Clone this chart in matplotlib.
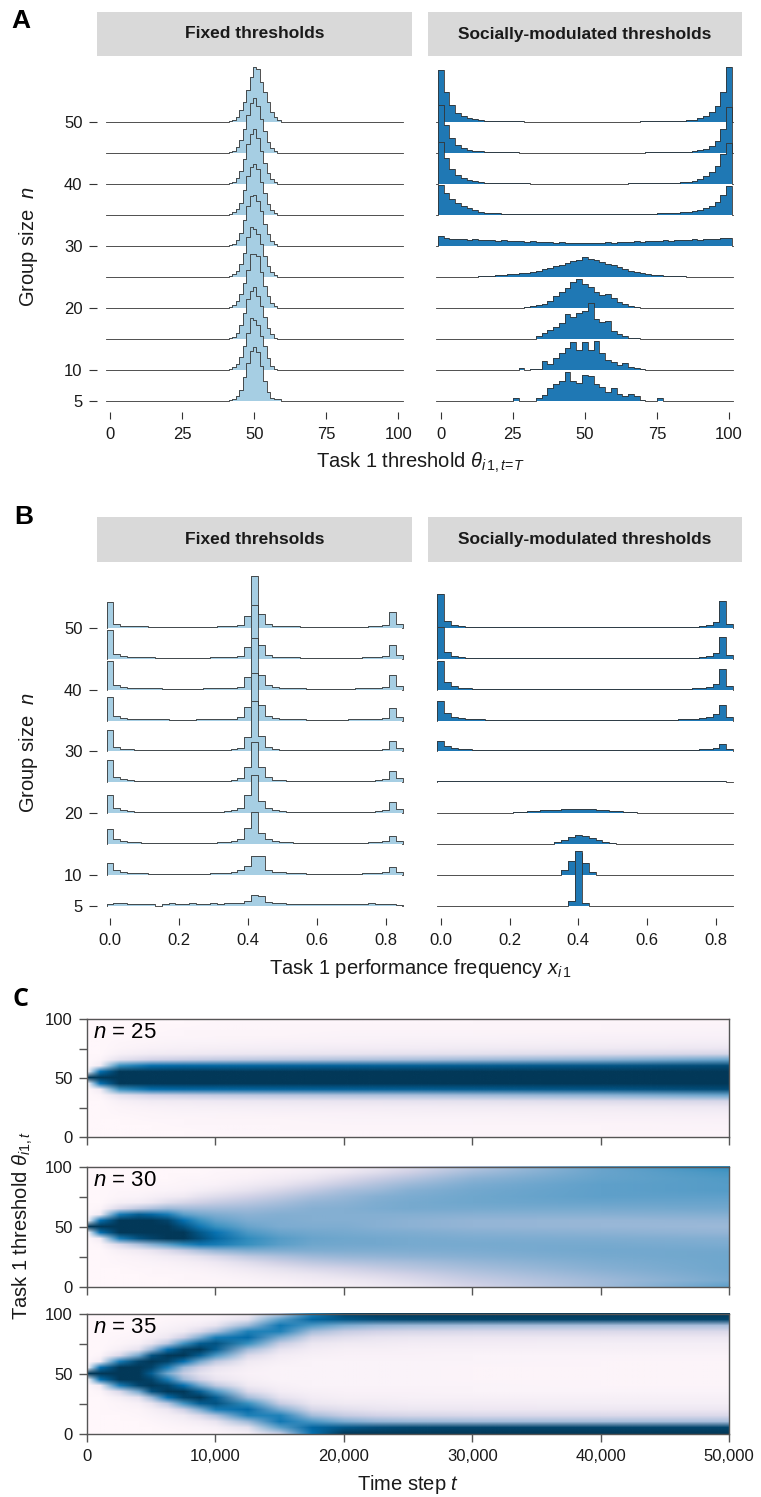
import numpy as np
import matplotlib.pyplot as plt
from matplotlib.image import NonUniformImage

plt.rcParams['font.family'] = ['Liberation Sans', 'DejaVu Sans']
plt.rcParams['mathtext.fontset'] = 'custom'
plt.rcParams['mathtext.rm'] = 'Liberation Sans'
plt.rcParams['mathtext.it'] = 'Liberation Sans:italic'
plt.rcParams['mathtext.bf'] = 'Liberation Sans:bold'

# ---------------- data ----------------
group_sizes = [5, 10, 15, 20, 25, 30, 35, 40, 45, 50]
size_labels = ['5', '10', '20', '30', '40', '50']
size_label_rows = [0, 1, 3, 5, 7, 9]
strip_titles_a = ['Fixed thresholds', 'Socially-modulated thresholds']
strip_titles_b = ['Fixed threhsolds', 'Socially-modulated thresholds']

# panel A, fixed thresholds: 17 bins of width 1.2 starting at 40
fixed_thr_start, fixed_thr_width = 40.0, 1.2
fixed_thr = [
    [0.3, 1, 2, 5, 11, 24, 38, 50, 54, 49, 35, 20, 9, 3, 2.5, 2, 0.3],   # n=5
    [0.5, 1, 3, 6, 13, 24, 37, 52, 50, 45, 34, 24, 12, 4, 1.5, 0.5, 0],  # 10
    [0.3, 1, 2, 6, 14, 26, 40, 48, 52, 43, 33, 22, 11, 5, 1.5, 0.5, 0],  # 15
    [0.5, 1, 3, 7, 14, 25, 38, 54, 54, 52, 36, 22, 12, 5, 2, 0.5, 0],    # 20
    [0.3, 1, 3, 6, 13, 24, 40, 50, 48, 43, 33, 21, 11, 5, 2, 0.5, 0],    # 25
    [0.3, 1, 2, 6, 13, 26, 40, 50, 51, 45, 35, 22, 12, 5, 2, 0.5, 0],    # 30
    [0.3, 1, 3, 6, 12, 25, 39, 48, 51, 46, 33, 22, 11, 5, 2, 0.5, 0],    # 35
    [0.3, 1, 2, 6, 13, 25, 40, 50, 55, 46, 33, 21, 11, 5, 2, 0.5, 0],    # 40
    [0.3, 1, 2, 6, 13, 24, 38, 50, 55, 47, 34, 22, 11, 5, 2, 0.5, 0],    # 45
    [0.3, 1, 2, 5, 12, 20, 32, 45, 55, 53, 40, 30, 20, 10, 5, 2, 0.5],   # 50
]

# panel A, socially-modulated thresholds: 51 bins of width 2 centred on 0, 2, ..., 100
social_thr = [
    [0] * 13 + [3, 0, 0, 0, 3, 6, 13, 17, 20, 29, 20, 18, 26, 25, 17, 14, 9, 13, 7, 5, 7, 5, 1, 0, 0, 3] + [0] * 12,
    [0] * 14 + [2, 0.5, 1, 1, 9, 6, 12, 17, 22, 28, 20, 28, 20, 29, 17, 10, 8, 5, 7, 3, 2, 1] + [0] * 15,
    [0] * 16 + [0.5, 3, 6, 9, 12, 16, 25, 22, 26, 28, 36, 20, 17, 18, 8, 5, 3, 1, 1, 0.5, 0.3] + [0] * 14,
    [0] * 14 + [0.5, 1.5, 2.5, 3, 4.5, 7, 12, 16, 20, 26, 29, 24, 21, 16, 13, 14, 10, 6, 4, 2, 1, 0.5, 0.3] + [0] * 14,
    [0, 0, 0, 0, 0, 0.3, 0.5, 1, 1.3, 1.6, 2, 2.5, 3, 3.5, 4.5, 4.5, 5.5, 6.5, 8, 9.5,
     11, 12.5, 14.5, 16, 17, 20, 18, 17, 15, 13, 12, 10, 8, 6.5, 5, 4, 3, 2.5, 2, 1.5,
     1.5, 1, 1, 0.6, 0.4, 0.2, 0, 0, 0, 0, 0],
    [10, 8, 7.5, 7, 7.5, 6.5, 7, 6, 6.5, 6, 5.5, 6, 5, 5.5, 5, 4.5, 5, 4, 4.5, 4,
     3.5, 4, 3.5, 3, 3.5, 3, 3.5, 3, 3.5, 4, 3.5, 4, 4.5, 4, 5, 4.5, 5, 5.5, 5, 6,
     5.5, 6, 6.5, 6, 7, 6.5, 7, 7.5, 7, 8, 8],
    [30, 22, 16, 12, 9, 7, 5, 3.5, 2.5, 2, 1.8, 1.6, 1.5, 1.4, 1.3, 1.2, 1.1, 1, 1, 1,
     1, 0.9, 0.9, 0.9, 0.9, 0.9, 0.9, 0.9, 1, 1, 1, 1, 1.1, 1.2, 1.3, 1.4, 1.5, 1.6, 1.8, 2,
     2.2, 2.5, 3, 3.5, 4, 5, 7, 9, 13, 20, 29],
    [42, 26, 15, 9, 6, 4, 3, 2.2, 1.6, 1.2, 1, 1, 0.9, 0.9, 0.8, 0.8, 0.7, 0.7, 0.7, 0.6,
     0.6, 0.6, 0.6, 0.6, 0.6, 0.6, 0.6, 0.6, 0.6, 0.6, 0.7, 0.7, 0.7, 0.8, 0.8, 0.9, 0.9, 1, 1.1, 1.2,
     1.3, 1.5, 2, 2.6, 3.5, 5, 8, 12, 18, 30, 41],
    [48, 28, 15, 8, 5, 3.5, 2.5, 2, 1.5, 1.2, 1, 0.9, 0.8, 0.8, 0.7, 0.7, 0.6, 0.6, 0.6, 0.5,
     0.5, 0.5, 0.5, 0.5, 0.5, 0.5, 0.5, 0.5, 0.5, 0.5, 0.6, 0.6, 0.6, 0.6, 0.7, 0.7, 0.8, 0.8, 0.9, 1,
     1.1, 1.2, 1.4, 1.7, 2.2, 3, 4.5, 7, 12, 24, 46],
    [52, 30, 17, 9, 6, 4, 3, 2.2, 1.6, 1.2, 1, 1, 0.9, 0.8, 0.8, 0.7, 0.7, 0.6, 0.6, 0.6,
     0.6, 0.5, 0.5, 0.5, 0.5, 0.5, 0.5, 0.5, 0.5, 0.6, 0.6, 0.6, 0.6, 0.7, 0.7, 0.8, 0.8, 0.9, 1, 1.1,
     1.2, 1.3, 1.5, 2, 2.5, 4, 6, 10, 16, 30, 55],
]

# panel B: 43 bins of width 0.02 centred on 0.00, 0.02, ..., 0.84
fixed_freq = [
    [2, 3, 3.5, 2, 2.5, 2, 2, 0.5, 2.5, 3, 2, 2.5, 3, 2.5, 2.5, 3, 2.5, 3, 3, 3.5,
     5, 11, 10, 4, 3, 3, 2.5, 2, 2, 2.5, 2, 2.5, 2, 2, 2.5, 2, 2.5, 2, 3, 2, 2.5, 2, 1],
    [12, 5, 3, 2.5, 2.2, 2, 1.8, 1.7, 1.6, 1.6, 1.6, 1.6, 1.6, 1.7, 1.8, 2, 2.3, 2.7, 3.5, 5,
     9, 19, 19, 5, 3.5, 3, 2.5, 2.2, 2, 1.8, 1.7, 1.7, 1.6, 1.6, 1.6, 1.7, 1.8, 2, 2.2, 2.5, 3.5, 8, 3],
    [15, 5, 3, 2.5, 2, 1.8, 1.6, 1.5, 1.5, 1.4, 1.4, 1.4, 1.5, 1.5, 1.6, 1.8, 2, 2.5, 3.5, 5.5,
     16, 32, 11, 5, 3, 2.5, 2, 1.8, 1.6, 1.5, 1.5, 1.4, 1.4, 1.4, 1.5, 1.5, 1.6, 1.8, 2, 2.3, 3, 8, 3],
    [18, 5, 3, 2.2, 1.8, 1.6, 1.5, 1.4, 1.3, 1.3, 1.2, 1.2, 1.3, 1.3, 1.4, 1.6, 1.8, 2.2, 3, 5,
     18, 38, 12, 5, 3, 2.2, 1.8, 1.6, 1.5, 1.4, 1.3, 1.3, 1.3, 1.3, 1.3, 1.4, 1.5, 1.6, 1.8, 2.2, 3, 11, 4],
    [22, 5, 3, 2, 1.7, 1.5, 1.4, 1.3, 1.2, 1.2, 1.1, 1.1, 1.2, 1.2, 1.3, 1.4, 1.6, 1.9, 2.4, 4.5,
     15, 41, 15, 5, 2.8, 2, 1.6, 1.4, 1.3, 1.2, 1.1, 1.1, 1.1, 1.1, 1.2, 1.2, 1.3, 1.4, 1.6, 2, 3, 11, 4],
    [22, 5, 2.5, 2, 1.6, 1.4, 1.3, 1.2, 1.1, 1.1, 1, 1, 1.1, 1.1, 1.2, 1.3, 1.5, 1.8, 2.2, 4,
     15, 51, 16, 5, 2.5, 1.8, 1.4, 1.3, 1.2, 1.1, 1, 1, 1, 1, 1.1, 1.1, 1.2, 1.3, 1.5, 1.8, 2.5, 11, 4],
    [24, 5, 2.5, 1.8, 1.5, 1.3, 1.2, 1.1, 1.1, 1, 1, 1, 1, 1.1, 1.1, 1.2, 1.4, 1.6, 2, 3.5,
     14, 48, 16, 5, 2.5, 1.8, 1.4, 1.2, 1.1, 1, 1, 1, 1, 1, 1, 1.1, 1.1, 1.2, 1.4, 1.8, 2.5, 13, 4],
    [29, 5, 2.5, 1.8, 1.5, 1.3, 1.2, 1.1, 1, 1, 1, 1, 1, 1, 1.1, 1.2, 1.3, 1.5, 1.9, 3,
     13, 52, 15, 4.5, 2.2, 1.6, 1.3, 1.2, 1.1, 1, 1, 1, 1, 1, 1, 1, 1.1, 1.2, 1.4, 1.8, 2.5, 15, 4],
    [29, 5, 2.5, 1.8, 1.5, 1.3, 1.2, 1.1, 1, 1, 1, 1, 1, 1, 1.1, 1.2, 1.3, 1.5, 1.8, 2.8,
     12, 54, 14, 4, 2, 1.5, 1.3, 1.2, 1.1, 1, 1, 1, 1, 1, 1, 1, 1.1, 1.2, 1.3, 1.6, 2.2, 14, 4],
    [26, 4, 2, 1.5, 1.3, 1.2, 1.1, 1, 1, 1, 1, 1, 1, 1, 1, 1.1, 1.2, 1.4, 1.7, 2.5,
     12, 52, 14, 4, 2, 1.5, 1.3, 1.2, 1.1, 1, 1, 1, 1, 1, 1, 1, 1, 1.1, 1.2, 1.5, 2.2, 16, 4],
]

social_freq = [
    [0] * 19 + [5, 55, 3] + [0] * 21,
    [0] * 17 + [0.5, 5, 14, 22, 12, 3, 0.5] + [0] * 19,
    [0] * 16 + [0.5, 2, 4.5, 7.5, 9.3, 8.5, 6.5, 4.5, 2.8, 1.5, 0.8, 0.3] + [0] * 15,
    [0] * 8 + [0.3, 0.5, 0.8, 1.1, 1.5, 2, 2.5, 3, 3.5, 3.8, 4.2, 4.3, 4.4, 4.2, 4, 3.6, 3.2, 2.7,
               2.2, 1.7, 1.2, 0.8, 0.5, 0.3, 0.2] + [0] * 10,
    [1.5, 1.3, 1.3, 1.2, 1.2, 1.2, 1.3, 1.3, 1.2, 1.3, 1.3, 1.3, 1.4, 1.3, 1.4, 1.4, 1.3, 1.4, 1.5, 1.4,
     1.5, 1.4, 1.5, 1.4, 1.4, 1.3, 1.4, 1.3, 1.3, 1.3, 1.2, 1.3, 1.2, 1.2, 1.1, 1.2, 1.1, 1.1, 1, 1, 1, 1, 0.8],
    [11, 6, 3.5, 2.5, 2, 1.6, 1.4, 1.3, 1.2, 1.1, 1, 1, 1, 1, 1, 1, 1, 1, 1, 1,
     1, 1, 1, 1, 1, 1, 1, 1, 1, 1, 1.1, 1.1, 1.2, 1.2, 1.3, 1.4, 1.5, 1.7, 2, 2.5, 3.5, 8, 2.5],
    [20, 8, 4, 2.5, 1.8, 1.4, 1.2, 1, 0.9, 0.8, 0.8, 0.8, 0.8, 0.8, 0.8, 0.8, 0.8, 0.8, 0.8, 0.8,
     0.8, 0.8, 0.8, 0.8, 0.8, 0.8, 0.8, 0.8, 0.8, 0.8, 0.8, 0.8, 0.9, 0.9, 1, 1.2, 1.4, 1.8, 2.5, 4, 7, 16, 4],
    [29, 8, 3.5, 1.8, 1.2, 0.9, 0.7, 0.6, 0.5, 0.5, 0.5, 0.5, 0.5, 0.5, 0.5, 0.5, 0.5, 0.5, 0.5, 0.5,
     0.5, 0.5, 0.5, 0.5, 0.5, 0.5, 0.5, 0.5, 0.5, 0.5, 0.5, 0.5, 0.5, 0.6, 0.6, 0.7, 0.9, 1.2, 1.8, 3, 6, 21, 4],
    [32, 7, 3, 1.5, 1, 0.8, 0.6, 0.5, 0.5, 0.5, 0.4, 0.4, 0.4, 0.4, 0.4, 0.4, 0.4, 0.4, 0.4, 0.4,
     0.4, 0.4, 0.4, 0.4, 0.4, 0.4, 0.4, 0.4, 0.4, 0.4, 0.4, 0.4, 0.5, 0.5, 0.5, 0.6, 0.8, 1, 1.5, 2.5, 6, 22, 4],
    [34, 7, 3, 1.5, 1, 0.8, 0.6, 0.5, 0.5, 0.5, 0.4, 0.4, 0.4, 0.4, 0.4, 0.4, 0.4, 0.4, 0.4, 0.4,
     0.4, 0.4, 0.4, 0.4, 0.4, 0.4, 0.4, 0.4, 0.4, 0.4, 0.4, 0.4, 0.5, 0.5, 0.5, 0.6, 0.8, 1, 1.5, 2.5, 6, 27, 4],
]

# panel C: density of thresholds over time (one list per time step, theta 0..100 by 5)
theta_grid = [0, 5, 10, 15, 20, 25, 30, 35, 40, 45, 50, 55, 60, 65, 70, 75, 80, 85, 90, 95, 100]
time_labels = ['0', '10,000', '20,000', '30,000', '40,000', '50,000']
heat_sizes = [25, 30, 35]

times_n25 = [0, 1000, 2500, 5000, 7500, 10000, 15000, 20000, 25000, 30000, 40000, 50000]
heat_n25 = [
    [0, 0, 0, 0, 0, 0, 0, 0, 0, 0, 100, 0, 0, 0, 0, 0, 0, 0, 0, 0, 0],
    [0, 0, 0, 0, 0, 0, 0, 2, 10, 75, 100, 75, 10, 2, 0, 0, 0, 0, 0, 0, 0],
    [0, 0, 0, 0, 1, 2, 5, 16, 62, 100, 100, 100, 62, 16, 5, 2, 1, 0, 0, 0, 0],
    [0, 0, 0, 1, 2, 4, 9, 24, 76, 100, 100, 100, 76, 24, 9, 4, 2, 1, 0, 0, 0],
    [0, 0, 1, 1, 3, 5, 10, 27, 79, 100, 100, 100, 79, 27, 10, 5, 3, 1, 1, 0, 0],
    [0, 1, 1, 2, 3, 6, 11, 29, 80, 100, 100, 100, 80, 29, 11, 6, 3, 2, 1, 1, 0],
    [0, 1, 1, 2, 4, 7, 13, 32, 82, 100, 100, 100, 82, 32, 13, 7, 4, 2, 1, 1, 0],
    [1, 1, 2, 3, 4, 8, 14, 34, 83, 100, 100, 100, 83, 34, 14, 8, 4, 3, 2, 1, 1],
    [1, 1, 2, 3, 5, 8, 15, 36, 84, 100, 100, 100, 84, 36, 15, 8, 5, 3, 2, 1, 1],
    [1, 1, 2, 3, 5, 9, 16, 39, 86, 100, 100, 100, 86, 39, 16, 9, 5, 3, 2, 1, 1],
    [1, 2, 2, 4, 6, 10, 19, 44, 89, 100, 100, 100, 89, 44, 19, 10, 6, 4, 2, 2, 1],
    [1, 2, 3, 4, 7, 12, 22, 52, 93, 100, 100, 100, 93, 52, 22, 12, 7, 4, 3, 2, 1],
]

times_fine = [0, 1000, 2500, 4000, 5000, 6250, 7500, 8750, 10000, 12500, 15000,
              17500, 20000, 22500, 25000, 30000, 40000, 50000]
heat_n30 = [
    [0, 0, 0, 0, 0, 0, 0, 0, 0, 0, 100, 0, 0, 0, 0, 0, 0, 0, 0, 0, 0],
    [0, 0, 0, 0, 0, 0, 0, 2, 10, 75, 100, 75, 10, 2, 0, 0, 0, 0, 0, 0, 0],
    [0, 0, 0, 0, 1, 2, 6, 20, 70, 100, 100, 100, 70, 20, 6, 2, 1, 0, 0, 0, 0],
    [0, 0, 0, 1, 2, 4, 10, 35, 90, 100, 100, 100, 85, 30, 8, 3, 1, 0, 0, 0, 0],
    [0, 0, 1, 1, 3, 6, 14, 45, 95, 100, 100, 100, 80, 35, 12, 5, 2, 1, 0, 0, 0],
    [0, 0, 1, 2, 4, 9, 20, 55, 100, 100, 100, 95, 70, 40, 18, 8, 3, 1, 0, 0, 0],
    [0, 1, 1, 3, 6, 12, 28, 65, 100, 100, 90, 75, 55, 38, 22, 10, 4, 2, 1, 0, 0],
    [0, 1, 2, 4, 8, 16, 36, 72, 92, 88, 72, 62, 50, 38, 25, 15, 7, 3, 1, 0, 0],
    [1, 1, 3, 6, 11, 21, 42, 70, 80, 74, 62, 54, 47, 38, 28, 18, 10, 4, 2, 1, 0],
    [1, 3, 6, 11, 18, 30, 47, 62, 64, 58, 52, 48, 44, 39, 32, 24, 15, 9, 4, 2, 1],
    [2, 5, 10, 16, 25, 35, 47, 55, 56, 52, 48, 47, 46, 42, 37, 30, 22, 14, 8, 4, 2],
    [4, 8, 13, 21, 30, 39, 47, 51, 52, 50, 47, 46, 46, 45, 42, 37, 29, 21, 13, 7, 4],
    [6, 10, 17, 24, 33, 41, 47, 50, 51, 49, 47, 46, 46, 46, 44, 41, 36, 28, 20, 12, 7],
    [9, 14, 20, 28, 35, 42, 47, 50, 50, 48, 45, 45, 46, 48, 47, 45, 40, 34, 27, 18, 12],
    [13, 18, 24, 31, 37, 43, 47, 49, 49, 47, 44, 44, 46, 49, 49, 48, 45, 40, 33, 25, 18],
    [23, 27, 32, 37, 41, 45, 48, 49, 48, 45, 42, 42, 45, 49, 51, 51, 50, 48, 44, 38, 32],
    [38, 39, 42, 45, 47, 49, 50, 49, 47, 44, 41, 41, 45, 49, 52, 54, 54, 54, 53, 52, 52],
    [54, 49, 50, 51, 51, 51, 50, 48, 46, 42, 40, 42, 46, 50, 52, 54, 56, 56, 57, 59, 64],
]
heat_n35 = [
    [0, 0, 0, 0, 0, 0, 0, 0, 0, 0, 100, 0, 0, 0, 0, 0, 0, 0, 0, 0, 0],
    [0, 0, 0, 0, 0, 0, 0, 2, 10, 75, 100, 75, 10, 2, 0, 0, 0, 0, 0, 0, 0],
    [0, 0, 0, 0, 1, 2, 6, 20, 70, 100, 100, 100, 70, 20, 6, 2, 1, 0, 0, 0, 0],
    [0, 0, 0, 1, 2, 5, 15, 50, 95, 100, 100, 100, 95, 50, 15, 5, 2, 1, 0, 0, 0],
    [0, 0, 1, 3, 6, 14, 40, 90, 100, 95, 85, 95, 100, 90, 40, 14, 6, 3, 1, 0, 0],
    [0, 1, 3, 6, 12, 32, 75, 100, 95, 70, 50, 70, 95, 100, 75, 32, 12, 6, 3, 1, 0],
    [1, 2, 5, 10, 26, 60, 95, 100, 75, 40, 28, 40, 75, 100, 95, 60, 26, 10, 5, 2, 1],
    [1, 3, 8, 20, 48, 85, 100, 85, 50, 24, 16, 24, 50, 85, 100, 85, 48, 20, 8, 3, 1],
    [2, 5, 14, 35, 70, 90, 85, 58, 30, 14, 9, 14, 30, 58, 85, 90, 70, 35, 14, 5, 2],
    [6, 16, 40, 68, 78, 62, 38, 20, 10, 6, 4, 6, 10, 20, 38, 62, 78, 68, 40, 16, 6],
    [28, 55, 72, 68, 48, 28, 15, 8, 5, 3, 3, 3, 5, 8, 15, 28, 48, 68, 72, 55, 28],
    [75, 80, 58, 38, 22, 13, 8, 5, 3, 3, 3, 3, 3, 5, 8, 13, 22, 38, 58, 80, 68],
    [100, 88, 48, 28, 17, 10, 6, 4, 3, 3, 3, 3, 3, 4, 6, 10, 17, 28, 48, 88, 95],
    [100, 92, 42, 24, 14, 9, 6, 4, 3, 3, 3, 3, 3, 4, 6, 9, 14, 24, 42, 92, 100],
    [100, 94, 40, 22, 13, 8, 5, 4, 3, 3, 3, 3, 3, 4, 5, 8, 13, 22, 40, 94, 100],
    [100, 95, 38, 21, 12, 8, 5, 3, 3, 2, 2, 2, 3, 3, 5, 8, 12, 21, 38, 95, 100],
    [100, 95, 37, 20, 12, 7, 5, 3, 2, 2, 2, 2, 2, 3, 5, 7, 12, 20, 37, 95, 100],
    [100, 95, 36, 20, 12, 7, 5, 3, 2, 2, 2, 2, 2, 3, 5, 7, 12, 20, 36, 95, 100],
]

# ---------------- layout helpers ----------------
W, H = 761, 1497
fig = plt.figure(figsize=(W / 100, H / 100), dpi=100)


def box(l, t, r, b):
    return [l / W, 1 - b / H, (r - l) / W, (b - t) / H]


LINE = '#333333'
TXT = '#1a1a1a'


def strip(l, t, r, b, title):
    ax = fig.add_axes(box(l, t, r, b))
    ax.set_facecolor('#d9d9d9')
    ax.set_xticks([])
    ax.set_yticks([])
    for s in ax.spines.values():
        s.set_visible(False)
    ax.text(0.5, 0.5, title, ha='center', va='center', fontsize=12.5,
            fontweight='bold', color=TXT, transform=ax.transAxes)


def ridges(ax, edges, rows, color, lo, hi, per_row=31.0):
    edges = np.asarray(edges)
    for i, h in enumerate(rows):
        h = np.asarray(h, dtype=float) / per_row
        x = np.concatenate([[lo], np.repeat(edges, 2), [hi]])
        y = np.concatenate([[0, 0], np.repeat(h, 2), [0, 0]])
        z = 100 - i
        ax.fill(x, i + y, color=color, lw=0, zorder=z)
        ax.plot(x, i + y, color=LINE, lw=0.6, zorder=z + 0.5)


def style_ridge_axes(ax, xticks, xlabels, xlim, ylim, left):
    ax.set_xlim(*xlim)
    ax.set_ylim(*ylim)
    for s in ax.spines.values():
        s.set_visible(False)
    ax.set_xticks(xticks)
    ax.set_xticklabels(xlabels)
    ax.tick_params(axis='x', direction='out', length=5.2, width=0.8, color=LINE,
                   labelsize=12, labelcolor=TXT, pad=5.5)
    if left:
        ax.set_yticks(size_label_rows)
        ax.set_yticklabels(size_labels)
        ax.tick_params(axis='y', direction='out', length=5.5, width=0.8, color=LINE,
                       labelsize=12, labelcolor=TXT, pad=5)
    else:
        ax.set_yticks([])


# ---------------- panel A ----------------
a_fixed_edges = fixed_thr_start + fixed_thr_width * np.arange(len(fixed_thr[0]) + 1)
a_social_edges = np.arange(len(social_thr[0]) + 1) * 2.0 - 1.0
a_ticks = [0, 25, 50, 75, 100]
a_tlabels = ['0', '25', '50', '75', '100']

strip(97, 12, 412, 56, strip_titles_a[0])
strip(427.7, 12, 742.3, 56, strip_titles_a[1])

axA1 = fig.add_axes(box(97, 56, 412, 411.7))
ridges(axA1, a_fixed_edges, fixed_thr, '#a6cee3', -1.5, 101.5)
style_ridge_axes(axA1, a_ticks, a_tlabels, (-4.51, 104.75), (-0.345, 11.14), True)

axA2 = fig.add_axes(box(427.7, 56, 742.3, 411.7))
ridges(axA2, a_social_edges, social_thr, '#1f78b4', -1.5, 101.5)
style_ridge_axes(axA2, a_ticks, a_tlabels, (-4.51, 104.6), (-0.345, 11.14), False)

fig.text(28 / W, 1 - 247 / H, r'Group size  $n$', rotation=90, ha='center', va='center',
         fontsize=14.5, color=TXT)
fig.text(420 / W, 1 - 463 / H, r'Task 1 threshold $\theta_{\mathit{i\,1,t}\!=\!\mathit{T}}$',
         ha='center', va='center', fontsize=14.5, color=TXT)
fig.text(11 / W, 1 - 9 / H, 'A', fontsize=19, fontweight='bold', ha='left', va='top')

# ---------------- panel B ----------------
b_edges = np.arange(len(fixed_freq[0]) + 1) * 0.02 - 0.01
b_ticks = [0, 0.2, 0.4, 0.6, 0.8]
b_tlabels = ['0.0', '0.2', '0.4', '0.6', '0.8']

strip(97, 516.7, 412, 561.7, strip_titles_b[0])
strip(427.7, 516.7, 742.3, 561.7, strip_titles_b[1])

axB1 = fig.add_axes(box(97, 561.7, 412, 917.7))
ridges(axB1, b_edges, fixed_freq, '#a6cee3', -0.01, 0.848)
style_ridge_axes(axB1, b_ticks, b_tlabels, (-0.0377, 0.8764), (-0.368, 11.13), True)

axB2 = fig.add_axes(box(427.7, 561.7, 742.3, 917.7))
ridges(axB2, b_edges, social_freq, '#1f78b4', -0.012, 0.849)
style_ridge_axes(axB2, b_ticks, b_tlabels, (-0.0378, 0.8765), (-0.368, 11.13), False)

fig.text(28 / W, 1 - 753 / H, r'Group size  $n$', rotation=90, ha='center', va='center',
         fontsize=14.5, color=TXT)
fig.text(420 / W, 1 - 968 / H, r'Task 1 performance frequency $\mathit{x}_{\mathit{i\,1}}$',
         ha='center', va='center', fontsize=14.5, color=TXT)
fig.text(14 / W, 1 - 505 / H, 'B', fontsize=19, fontweight='bold', ha='left', va='top')

# ---------------- panel C ----------------
C_GREY = '#555555'
heat_rows = [(1019, 1137), (1167, 1287), (1314, 1434)]
heat_sets = [(times_n25, heat_n25), (times_fine, heat_n30), (times_fine, heat_n35)]
for k, ((tt, grid), n, (top, bot)) in enumerate(zip(heat_sets, heat_sizes, heat_rows)):
    ax = fig.add_axes(box(87, top, 729, bot))
    Z = np.array(grid, dtype=float).T
    im = NonUniformImage(ax, interpolation='bilinear', cmap='PuBu',
                         extent=(0, 50000, 0, 100))
    im.set_data(np.array(tt, dtype=float), np.array(theta_grid, dtype=float), Z)
    im.set_clim(0, 100)
    ax.add_image(im)
    ax.set_xlim(0, 50000)
    ax.set_ylim(0, 100)
    for s in ax.spines.values():
        s.set_color(C_GREY)
        s.set_linewidth(1.0)
        s.set_zorder(5)
    ax.set_yticks([0, 25, 50, 75, 100])
    ax.set_yticklabels(['0', '', '50', '', '100'])
    ax.set_xticks([0, 10000, 20000, 30000, 40000, 50000])
    if k == 2:
        ax.set_xticklabels(time_labels)
    else:
        ax.set_xticklabels([])
    ax.tick_params(direction='out', length=5.5, width=1.0, color=C_GREY,
                   labelsize=12, labelcolor=TXT, pad=5)
    ax.text(0.009, 0.885, r'$\mathit{n}$ = %d' % n, transform=ax.transAxes,
            ha='left', va='center', fontsize=16, color='black', zorder=6)

fig.text(23 / W, 1 - 1226 / H, r'Task 1 threshold $\theta_{\mathit{i1,t}}$', rotation=90,
         ha='center', va='center', fontsize=14.5, color=TXT)
fig.text(408 / W, 1 - 1485 / H, r'Time step $\mathit{t}$', ha='center', va='center',
         fontsize=14.5, color=TXT)
fig.text(13 / W, 1 - 987 / H, 'C', fontsize=18, fontweight='bold', ha='left', va='top',
         family=['Open Sans', 'DejaVu Sans'])

fig.savefig('out.png', dpi=100)
